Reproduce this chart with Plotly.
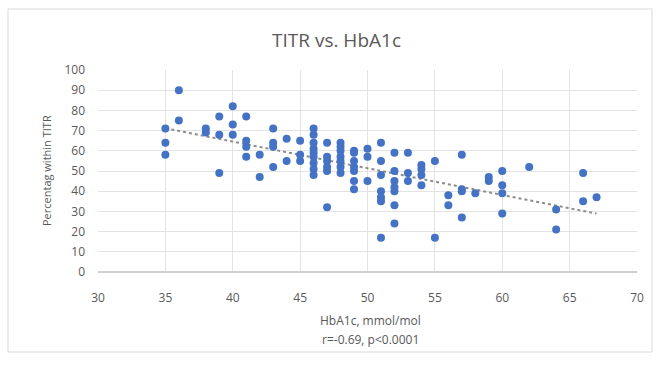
import numpy as np
import plotly.graph_objects as go

# HbA1c (mmol/mol) and percentage within TITR
hba1c = ([35]*3 + [36]*2 + [38]*2 + [39]*3 + [40]*3 + [41]*4 + [42]*2 + [43]*4 +
         [44]*2 + [45]*3 + [46]*9 + [47]*6 + [48]*7 + [49]*7 + [50]*3 + [51]*7 +
         [52]*7 + [53]*3 + [54]*4 + [55]*2 + [56]*2 + [57]*4 + [58]*1 + [59]*2 +
         [60]*4 + [62]*1 + [64]*2 + [66]*2 + [67]*1)
titr = [71, 64, 58,
        90, 75,
        71, 69,
        77, 68, 49,
        82, 73, 68,
        77, 65, 62, 57,
        58, 47,
        71, 64, 62, 52,
        66, 55,
        65, 58, 55,
        71, 68, 64, 61, 59, 57, 54, 51, 48,
        64, 57, 55, 52, 50, 32,
        64, 62, 60, 57, 55, 52, 49,
        60, 59, 55, 52, 50, 45, 41,
        61, 57, 45,
        64, 55, 48, 40, 37, 35, 17,
        59, 50, 45, 42, 40, 33, 24,
        59, 49, 45,
        53, 51, 48, 43,
        55, 17,
        38, 33,
        58, 41, 40, 27,
        39,
        47, 45,
        50, 43, 39, 29,
        52,
        31, 21,
        49, 35,
        37]

title_text = "TITR vs. HbA1c"
x_title = "HbA1c, mmol/mol"
stat_text = "r=-0.69, p<0.0001"
y_title = "Percentag within TITR"

x = np.array(hba1c, dtype=float)
y = np.array(titr, dtype=float)
slope, intercept = np.polyfit(x, y, 1)
xt = np.array([x.min(), x.max()])
yt = slope * xt + intercept

FONT = "Open Sans"
GRAY = "#595959"

fig = go.Figure()
fig.add_trace(go.Scatter(x=xt, y=yt, mode="lines",
                         line=dict(color="#8c8c8c", width=2, dash="dot"),
                         hoverinfo="skip", showlegend=False))
fig.add_trace(go.Scatter(x=x, y=y, mode="markers",
                         marker=dict(color="#4472c4", size=8),
                         showlegend=False))

L, R, T, B = 98, 23, 70, 96
W, H = 660, 368
pw, ph = W - L - R, H - T - B

def px(xp):
    return (xp - L) / pw

def py(yp):
    return (H - B - yp) / ph

fig.update_layout(
    width=W, height=H,
    margin=dict(l=L, r=R, t=T, b=B),
    paper_bgcolor="white", plot_bgcolor="white",
    font=dict(family=FONT, color=GRAY, size=12),
    xaxis=dict(range=[30, 70], dtick=5, tick0=30, showgrid=True,
               gridcolor="#e3e3e3", gridwidth=1, zeroline=False,
               showline=False, ticks="", ticklabelstandoff=17,
               tickfont=dict(size=12, color=GRAY)),
    yaxis=dict(range=[0, 100], dtick=10, showgrid=True,
               gridcolor="#e3e3e3", gridwidth=1, zeroline=True,
               zerolinecolor="#cfcfcf", zerolinewidth=1.5,
               showline=False, ticks="", ticklabelstandoff=12,
               tickfont=dict(size=12, color=GRAY)),
    shapes=[
        dict(type="rect", xref="paper", yref="paper",
             x0=px(8), x1=px(652), y0=py(352), y1=py(9),
             line=dict(color="#d9d9d9", width=1), layer="below"),
        dict(type="line", xref="paper", yref="paper",
             x0=0, x1=1, y0=0, y1=0,
             line=dict(color="#cfcfcf", width=1.5)),
    ],
    annotations=[
        dict(text=title_text, xref="paper", yref="paper", x=px(336), y=py(40),
             showarrow=False, xanchor="center", yanchor="middle",
             font=dict(size=19, color=GRAY, family=FONT)),
        dict(text=x_title, xref="paper", yref="paper", x=px(370), y=py(320),
             showarrow=False, xanchor="center", yanchor="middle",
             font=dict(size=12, color=GRAY, family=FONT)),
        dict(text=stat_text, xref="paper", yref="paper", x=px(370), y=py(339),
             showarrow=False, xanchor="center", yanchor="middle",
             font=dict(size=12, color=GRAY, family=FONT)),
        dict(text=y_title, xref="paper", yref="paper", x=px(46), y=py(171),
             showarrow=False, xanchor="center", yanchor="middle", textangle=-90,
             font=dict(size=11, color=GRAY, family=FONT)),
    ],
)

fig.write_html("out.html")
